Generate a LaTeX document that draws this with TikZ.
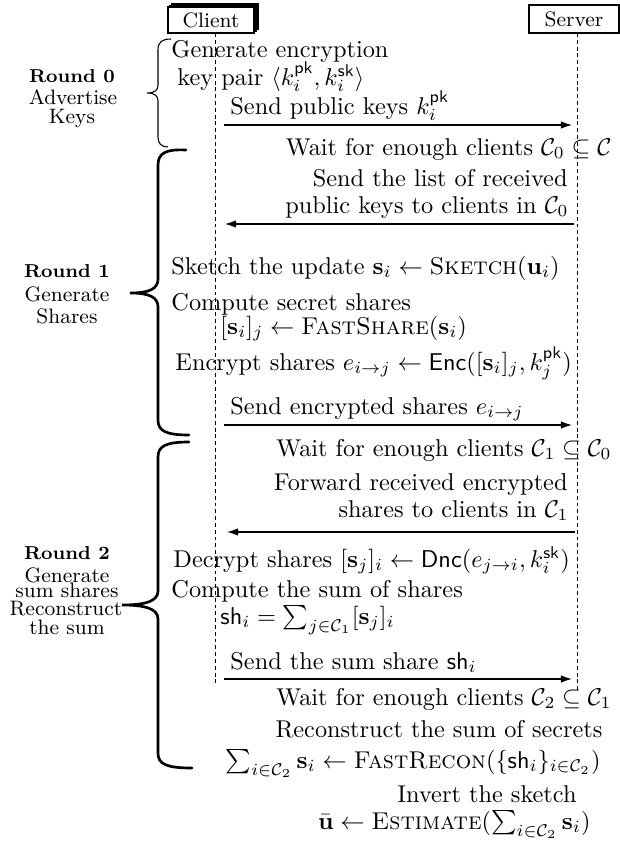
\documentclass[tikz,border=0pt]{standalone}
\usepackage{amsmath,amssymb}
\usetikzlibrary{arrows.meta}
\newcommand{\pkk}{\mathsf{pk}}
\newcommand{\skk}{\mathsf{sk}}
\begin{document}
\begin{tikzpicture}[x=0.4115pt,y=-0.4115pt,
 txt/.style={inner sep=0pt, font=\fontsize{10}{12}\selectfont},
 lft/.style={txt, anchor=base west},
 rgt/.style={txt, anchor=base east},
 lab/.style={inner sep=0pt, anchor=base, font=\fontsize{8.6}{10}\selectfont},
 rlab/.style={inner sep=0pt, anchor=base, font=\fontsize{7.7}{9}\selectfont\bfseries},
 msg/.style={line width=0.5pt, -{Latex[length=4.6pt,width=3.1pt]}},
 life/.style={line width=0.4pt, dash pattern=on 1.6pt off 1.2pt},
 thinbrace/.style={line width=0.45pt},
 thickbrace/.style={line width=1.1pt, line cap=round},
 actor/.style={draw, line width=0.5pt, fill=white, inner sep=0pt, font=\fontsize{8.6}{10}\selectfont}]
\useasboundingbox (0,0) rectangle (619,841);

% lifelines
\coordinate (ctop) at (215,33);
\coordinate (cbot) at (215,684);
\coordinate (stop) at (577,33);
\coordinate (sbot) at (577,690);
\draw[life] (ctop) -- (cbot);
\draw[life] (stop) -- (sbot);

% actors
\draw[line width=0.5pt, fill=white] (172,4) rectangle (258,29);
\draw[line width=0.5pt, fill=white] (170,5.5) rectangle (256,31);
\node[actor, minimum width=35.4pt, minimum height=10.7pt] (client) at (211,20) {Client};
\node[actor, minimum width=37pt, minimum height=11.5pt] (server) at (574,19) {Server};

% left labels
\node[rlab] (r0) at (72,82) {Round 0};
\node[lab] (r0a) at (73,104) {Advertise};
\node[lab] (r0b) at (72,123) {Keys};
\node[rlab] (r1) at (67,277) {Round 1};
\node[lab] (r1a) at (67,301) {Generate};
\node[lab] (r1b) at (67,323) {Shares};
\node[rlab] (r2) at (67,559) {Round 2};
\node[lab] (r2a) at (67,582) {Generate};
\node[lab] (r2b) at (67,597) {sum shares};
\node[lab] (r2c) at (66,615) {Reconstruct};
\node[lab] (r2d) at (67,634) {the sum};

% braces
\draw[thinbrace] (171,39) .. controls (162,39) and (158,42) .. (158,50) -- (158,85)
  .. controls (158,90) and (155,93) .. (147,93)
  .. controls (155,93) and (158,96) .. (158,101) -- (158,137)
  .. controls (158,143) and (161,147) .. (168,147);
\draw[thickbrace] (186,150) .. controls (166,149) and (158,153) .. (158,165) -- (158,279)
  .. controls (158,289) and (149,293) .. (130,293)
  .. controls (149,293) and (158,297) .. (158,307) -- (158,420)
  .. controls (158,431) and (166,435) .. (189,435);
\draw[thickbrace] (189,442) .. controls (166,442) and (158,446) .. (158,457) -- (158,591)
  .. controls (158,601) and (146,605) .. (122,605)
  .. controls (146,605) and (158,609) .. (158,619) -- (158,753)
  .. controls (158,764) and (166,768) .. (192,768);

% round 0
\node[lft] (t1) at (171,57) {Generate encryption};
\node[lft] (t2) at (177,85) {key pair $\langle k_i^{\pkk}, k_i^{\skk}\rangle$};
\node[lft] (t3) at (230,114) {Send public keys $k_i^{\pkk}$};
\coordinate (a1s) at (224,125);
\coordinate (a1e) at (572,125);
\draw[msg] (a1s) -- (a1e);
\node[rgt] (t4) at (612,155) {Wait for enough clients $\mathcal{C}_0 \subseteq \mathcal{C}$};

% round 1
\node[rgt] (t5) at (568,186) {Send the list of received};
\node[rgt] (t6) at (569,213) {public keys to clients in $\mathcal{C}_0$};
\coordinate (a2s) at (574,224);
\coordinate (a2e) at (225,224);
\draw[msg] (a2s) -- (a2e);
\node[lft] (t7) at (171,274) {Sketch the update $\mathbf{s}_i \leftarrow \textsc{Sketch}(\mathbf{u}_i)$};
\node[lft] (t8) at (171,310) {Compute secret shares};
\node[lft] (t9) at (220,334) {$[\mathbf{s}_i]_j \leftarrow \textsc{FastShare}(\mathbf{s}_i)$};
\node[lft] (t10) at (175,370) {Encrypt shares $e_{i\rightarrow j} \leftarrow \mathsf{Enc}([\mathbf{s}_i]_j, k_j^{\pkk})$};
\node[lft] (t11) at (230,414) {Send encrypted shares $e_{i\rightarrow j}$};
\coordinate (a3s) at (224,425);
\coordinate (a3e) at (572,425);
\draw[msg] (a3s) -- (a3e);
\node[rgt] (t12) at (612,456) {Wait for enough clients $\mathcal{C}_1 \subseteq \mathcal{C}_0$};

% round 2
\node[rgt] (t13) at (568,490) {Forward received encrypted};
\node[rgt] (t14) at (569,517) {shares to clients in $\mathcal{C}_1$};
\coordinate (a4s) at (575,532);
\coordinate (a4e) at (227,532);
\draw[msg] (a4s) -- (a4e);
\node[lft] (t15) at (173,567) {Decrypt shares $[\mathbf{s}_j]_i \leftarrow \mathsf{Dnc}(e_{j\rightarrow i}, k_i^{\skk})$};
\node[lft] (t16) at (171,597) {Compute the sum of shares};
\node[lft] (t17) at (220,624) {$\mathsf{sh}_i = \sum_{j\in\mathcal{C}_1}[\mathbf{s}_j]_i$};
\node[lft] (t18) at (230,669) {Send the sum share $\mathsf{sh}_i$};
\coordinate (a5s) at (224,679);
\coordinate (a5e) at (572,679);
\draw[msg] (a5s) -- (a5e);
\node[rgt] (t19) at (612,705) {Wait for enough clients $\mathcal{C}_2 \subseteq \mathcal{C}_1$};
\node[rgt] (t20) at (603,737) {Reconstruct the sum of secrets};
\node[rgt] (t21) at (601,768) {$\sum_{i\in\mathcal{C}_2}\mathbf{s}_i \leftarrow \textsc{FastRecon}(\{\mathsf{sh}_i\}_{i\in\mathcal{C}_2})$};
\node[rgt] (t22) at (577,802) {Invert the sketch};
\node[rgt] (t23) at (591,829) {$\bar{\mathbf{u}} \leftarrow \textsc{Estimate}(\sum_{i\in\mathcal{C}_2}\mathbf{s}_i)$};
\end{tikzpicture}
\end{document}
